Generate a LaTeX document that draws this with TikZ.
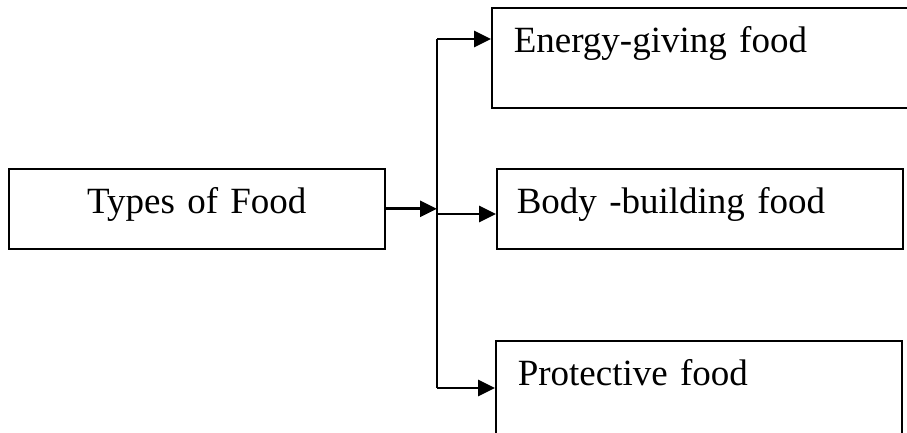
\documentclass[tikz,border=0pt]{standalone}
\usepackage{fontspec}
\setmainfont{Liberation Serif}
\usetikzlibrary{arrows.meta}
\begin{document}
\begin{tikzpicture}[x=1pt,y=-1pt,
				foodbox/.style={draw,line width=1.6pt,anchor=north west,inner ysep=0pt,
					text height=45pt,font=\fontsize{37}{44}\selectfont},
				arr/.style={line width=2.8pt,-{Triangle[length=17pt,width=16pt]}}]
\clip (0,0) rectangle (907,432);
\node[foodbox,inner xsep=0pt,text width=376pt,align=center,text depth=35pt] (types) at (8,168) {Types of Food};
\node[foodbox,inner xsep=22pt,text width=380pt,align=left,text depth=55pt] (energy) at (491,7) {Energy-giving food};
\node[foodbox,inner xsep=20pt,text width=366pt,align=left,text depth=35pt] (body) at (496,168) {Body -building food};
\node[foodbox,inner xsep=22pt,text width=362pt,align=left,text depth=55pt] (prot) at (495,340) {Protective food};
\coordinate (top) at (437,39);
\coordinate (mid) at (437,214);
\coordinate (bot) at (437,388);
\draw[line width=2.2pt] (top) -- (bot);
\draw[arr] (types.east) -- (types.east -| top);
\draw[arr] (top) -- (energy.west |- top);
\draw[arr] (mid) -- (body.west |- mid);
\draw[arr] (bot) -- (prot.west |- bot);
\end{tikzpicture}
\end{document}
